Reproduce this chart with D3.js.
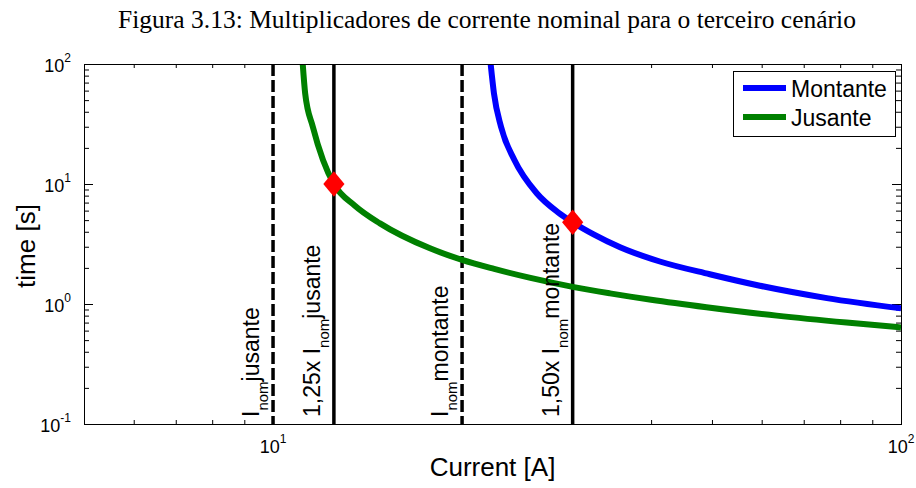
<!DOCTYPE html>
<html>
<head>
<meta charset="utf-8">
<script src="https://cdn.jsdelivr.net/npm/d3@7"></script>
<style>
  body { margin: 0; background: #fff; }
  text { font-family: "Liberation Sans", Arial, sans-serif; fill: #000; }
</style>
</head>
<body>
<svg id="chart" width="916" height="488"></svg>
<script>
// ---- data ----
const titleText = "Figura 3.13: Multiplicadores de corrente nominal para o terceiro cenário";
const xLabel = "Current [A]";
const yLabel = "time [s]";

const xDomain = [5, 100];
const yDomain = [0.1, 100];
const xMajorTicks = [10, 100];
const xMajorExponents = ["1", "2"];
const xMinorTicks = [6, 7, 8, 9, 20, 30, 40, 50, 60, 70, 80, 90];
const yMajorTicks = [0.1, 1, 10, 100];
const yMajorExponents = ["-1", "0", "1", "2"];
const yMinorTicks = [0.2, 0.3, 0.4, 0.5, 0.6, 0.7, 0.8, 0.9,
                     2, 3, 4, 5, 6, 7, 8, 9,
                     20, 30, 40, 50, 60, 70, 80, 90];

// Upstream relay (Montante) trip curve
const montanteCurrent = [22.21, 22.48, 23.07, 24.23, 26.3, 28.47, 30.0, 32.4, 35.7, 41.3, 49.6, 59.6, 76.2, 100];
const montanteTime    = [100, 57.0, 30.0, 15.85, 8.37, 5.78, 4.8, 3.8, 2.97, 2.26, 1.77, 1.42, 1.12, 0.92];

// Downstream relay (Jusante) trip curve
const jusanteCurrent = [11.15, 11.25, 11.57, 12.01, 12.5, 13.5, 14.8, 17.78, 20.0, 22.5, 25.7, 30.0, 34.4, 40.0, 49.0, 63.4, 81.9, 100];
const jusanteTime    = [100, 57.0, 30.0, 15.85, 10.0, 6.6, 4.70, 2.91, 2.33, 1.96, 1.65, 1.39, 1.227, 1.085, 0.94, 0.80, 0.70, 0.638];

// Operating points at the current multipliers
const markerCurrent = [12.5, 30];
const markerTime = [10, 4.8];

// Reference current lines and their labels
const refCurrent = [10, 12.5, 20, 30];
const refDashed = [true, false, true, false];
const refPrefix = ["I", "1,25x I", "I", "1,50x I"];
const refSub = ["nom", "nom", "nom", "nom"];
const refSuffix = ["jusante", "jusante", "montante", "montante"];

const legendNames = ["Montante", "Jusante"];
const seriesColors = ["#0000ff", "#008000"];

// ---- layout ----
const W = 916, H = 488;
const plot = { left: 84, right: 901, top: 64, bottom: 424 };

const svg = d3.select("#chart");
svg.append("rect").attr("width", W).attr("height", H).attr("fill", "#fff");

const x = d3.scaleLog().domain(xDomain).range([plot.left, plot.right]);
const y = d3.scaleLog().domain(yDomain).range([plot.bottom, plot.top]);

// title
svg.append("text")
  .attr("x", 487).attr("y", 28)
  .attr("text-anchor", "middle")
  .style("font-family", "'Liberation Serif', 'Times New Roman', serif")
  .style("font-size", "25.5px")
  .text(titleText);

// clip region for the data
svg.append("defs").append("clipPath").attr("id", "plotClip")
  .append("rect")
  .attr("x", plot.left).attr("y", plot.top)
  .attr("width", plot.right - plot.left).attr("height", plot.bottom - plot.top);

// ---- tick marks (inward, on all four sides) ----
function tickAxis(axisFn, scale, values, size, transform) {
  const g = svg.append("g").attr("transform", transform)
    .call(axisFn(scale).tickValues(values).tickSize(size).tickFormat(""));
  g.select(".domain").remove();
  g.selectAll(".tick line").attr("stroke", "#000").attr("stroke-width", 1);
  return g;
}
tickAxis(d3.axisBottom, x, xMinorTicks, -4, `translate(0,${plot.bottom})`);
tickAxis(d3.axisBottom, x, xMajorTicks, -8, `translate(0,${plot.bottom})`);
tickAxis(d3.axisTop, x, xMinorTicks, -4, `translate(0,${plot.top})`);
tickAxis(d3.axisTop, x, xMajorTicks, -8, `translate(0,${plot.top})`);
tickAxis(d3.axisLeft, y, yMinorTicks, -5, `translate(${plot.left},0)`);
tickAxis(d3.axisLeft, y, yMajorTicks, -9, `translate(${plot.left},0)`);
tickAxis(d3.axisRight, y, yMinorTicks, -5, `translate(${plot.right},0)`);
tickAxis(d3.axisRight, y, yMajorTicks, -9, `translate(${plot.right},0)`);

// ---- tick labels with exponents ----
yMajorTicks.forEach((v, i) => {
  const t = svg.append("text")
    .attr("x", 71).attr("y", y(v) + 7.5)
    .attr("text-anchor", "end")
    .style("font-size", "18px");
  t.append("tspan").text("10");
  t.append("tspan").attr("dy", -10).style("font-size", "12px").text(yMajorExponents[i]);
});
xMajorTicks.forEach((v, i) => {
  const t = svg.append("text")
    .attr("x", x(v)).attr("y", 453)
    .attr("text-anchor", "middle")
    .style("font-size", "18px");
  t.append("tspan").text("10");
  t.append("tspan").attr("dy", -10).style("font-size", "12px").text(xMajorExponents[i]);
});

// ---- axis titles ----
svg.append("text")
  .attr("x", x(Math.sqrt(xDomain[0] * xDomain[1]))).attr("y", 476)
  .attr("text-anchor", "middle")
  .style("font-size", "26px")
  .text(xLabel);
svg.append("text")
  .attr("transform", `translate(35,${(plot.top + plot.bottom) / 2 + 2}) rotate(-90)`)
  .attr("text-anchor", "middle")
  .style("font-size", "26px")
  .text(yLabel);

// ---- reference current lines ----
const data = svg.append("g").attr("clip-path", "url(#plotClip)");
refCurrent.forEach((v, i) => {
  data.append("line")
    .attr("x1", x(v)).attr("x2", x(v))
    .attr("y1", plot.top).attr("y2", plot.bottom)
    .attr("stroke", "#000").attr("stroke-width", 3.5)
    .attr("stroke-dasharray", refDashed[i] ? "12,4" : null);
});

// ---- trip curves ----
const line = d3.line()
  .x(d => x(d[0])).y(d => y(d[1]))
  .curve(d3.curveMonotoneX);
const series = [
  d3.zip(montanteCurrent, montanteTime),
  d3.zip(jusanteCurrent, jusanteTime)
];
series.forEach((s, i) => {
  data.append("path")
    .attr("d", line(s))
    .attr("fill", "none")
    .attr("stroke", seriesColors[i])
    .attr("stroke-width", 6);
});

// ---- labels of the reference lines ----
refCurrent.forEach((v, i) => {
  const px = x(v) - 14;
  const t = svg.append("text")
    .attr("transform", `translate(${px},417) rotate(-90)`)
    .style("font-size", "23px");
  t.append("tspan").text(refPrefix[i]);
  t.append("tspan").attr("dy", 9).style("font-size", "15px").text(refSub[i]);
  t.append("tspan").attr("dy", -9).text(refSuffix[i]);
});

// ---- operating-point markers ----
const diamond = {
  draw(ctx, size) {
    const w = Math.sqrt(size / 2.4);
    const h = w * 1.2;
    ctx.moveTo(0, -h); ctx.lineTo(w, 0); ctx.lineTo(0, h); ctx.lineTo(-w, 0); ctx.closePath();
  }
};
markerCurrent.forEach((v, i) => {
  svg.append("path")
    .attr("transform", `translate(${x(v)},${y(markerTime[i])})`)
    .attr("d", d3.symbol().type(diamond).size(270)())
    .attr("fill", "#ff0000");
});

// ---- axes box ----
svg.append("rect")
  .attr("x", plot.left + 0.5).attr("y", plot.top + 0.5)
  .attr("width", plot.right - plot.left).attr("height", plot.bottom - plot.top)
  .attr("fill", "none").attr("stroke", "#000").attr("stroke-width", 1);

// ---- legend ----
const leg = svg.append("g");
leg.append("rect")
  .attr("x", 733.5).attr("y", 71.5).attr("width", 162).attr("height", 65)
  .attr("fill", "#fff").attr("stroke", "#000").attr("stroke-width", 1);
legendNames.forEach((name, i) => {
  const ly = 88 + i * 29;
  leg.append("line")
    .attr("x1", 743).attr("x2", 786).attr("y1", ly).attr("y2", ly)
    .attr("stroke", seriesColors[i]).attr("stroke-width", 6);
  leg.append("text")
    .attr("x", 791).attr("y", ly + 9)
    .style("font-size", "23px")
    .text(name);
});
</script>
</body>
</html>
